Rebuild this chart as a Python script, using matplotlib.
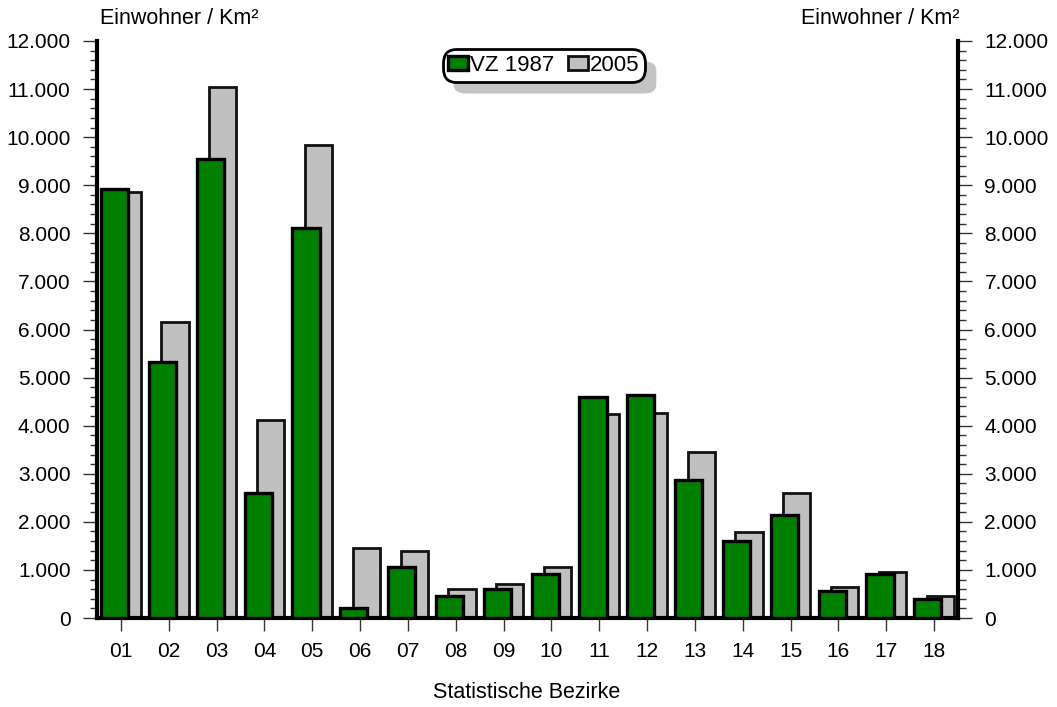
import matplotlib
matplotlib.use("Agg")
import matplotlib.pyplot as plt
import numpy as np
from matplotlib.patches import FancyBboxPatch
from matplotlib.ticker import MultipleLocator, FuncFormatter

categories = ["01", "02", "03", "04", "05", "06", "07", "08", "09",
              "10", "11", "12", "13", "14", "15", "16", "17", "18"]
vz1987 = [8930, 5320, 9540, 2600, 8110, 200, 1070, 460, 600,
          910, 4600, 4640, 2870, 1610, 2150, 570, 915, 390]
y2005 = [8870, 6150, 11040, 4110, 9830, 1460, 1390, 610, 700,
         1060, 4240, 4270, 3460, 1790, 2600, 640, 955, 455]
series_labels = ["VZ 1987", "2005"]
ylabel_text = "Einwohner / Km²"
xlabel_text = "Statistische Bezirke"

plt.rcParams['font.family'] = ['Liberation Sans', 'DejaVu Sans']
FS = 15.5
TFS = 15

fig = plt.figure(figsize=(10.57, 7.07), dpi=100)
W, H = 1057, 707
ax = fig.add_axes([97 / W, (H - 618) / H, (958 - 97) / W, (618 - 41) / H])

x = np.arange(len(categories))
bw = 0.57
off = 0.13
ax.bar(x + off, y2005, bw, color="#c0c0c0", edgecolor="#111111", linewidth=2, zorder=2,
       label=series_labels[1])
ax.bar(x - off, vz1987, bw, color="#008000", edgecolor="black", linewidth=2.4, zorder=3,
       label=series_labels[0])

ax.set_xlim(-0.5, len(categories) - 0.5)
ax.set_ylim(0, 12000)
ax.set_xticks(x)
ax.set_xticklabels(categories, fontsize=TFS)
ax.yaxis.set_major_locator(MultipleLocator(1000))
ax.yaxis.set_minor_locator(MultipleLocator(200))
fmt = FuncFormatter(lambda v, p: f"{int(v):,}".replace(",", "."))
ax.yaxis.set_major_formatter(fmt)
tc = "#333333"
ax.tick_params(axis='y', which='major', length=10, width=1, color=tc, labelsize=TFS, pad=9,
               left=True, right=True, labelleft=True, labelright=True)
ax.tick_params(axis='y', which='minor', length=5.4, width=1, color=tc, left=True, right=True)
ax.tick_params(axis='x', which='major', length=9, width=1, color=tc, labelsize=TFS, pad=8)

for s in ax.spines.values():
    s.set_linewidth(3)
ax.spines['top'].set_visible(False)

fig.text(100 / W, 1 - 18 / H, ylabel_text, fontsize=FS, ha='left', va='center')
fig.text(959 / W, 1 - 18 / H, ylabel_text, fontsize=FS, ha='right', va='center')
fig.text(527 / W, 1 - 692 / H, xlabel_text, fontsize=FS, ha='center', va='center')

# legend
handles, labels = ax.get_legend_handles_labels()
order = [1, 0]
leg = ax.legend([handles[i] for i in order], [labels[i] for i in order],
                loc='center', bbox_to_anchor=((544 - 97) / (958 - 97), (618 - 65.5) / (618 - 41)),
                ncol=2, fontsize=16, handlelength=0.9, handleheight=0.62,
                handletextpad=0.1, columnspacing=0.6, borderpad=0.25,
                frameon=True, fancybox=True, framealpha=1, borderaxespad=0)
frame = leg.get_frame()
frame.set_edgecolor('black')
frame.set_linewidth(2)
frame.set_boxstyle('round,pad=0,rounding_size=0.6')
leg.set_zorder(6)

fig.canvas.draw()
bb = leg.get_window_extent()
sh = FancyBboxPatch((bb.x0 / W + 11 / W, bb.y0 / H - 12 / H), bb.width / W, bb.height / H,
                    boxstyle='round,pad=0,rounding_size=0.012', transform=fig.transFigure,
                    facecolor='#c4c4c4', edgecolor='none', zorder=5)
ax.add_artist(sh)
sh.set_transform(fig.transFigure)
sh.set_clip_on(False)

fig.savefig("out.png", dpi=100)
